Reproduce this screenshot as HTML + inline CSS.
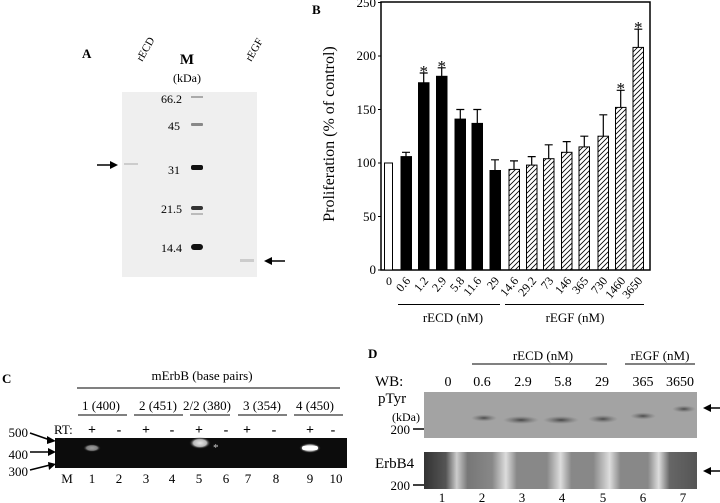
<!DOCTYPE html>
<html><head><meta charset="utf-8"><style>
html,body{margin:0;padding:0;background:#fff;width:720px;height:503px;overflow:hidden}
text{font-family:"Liberation Serif",serif;fill:#000}
</style></head><body>
<svg width="720" height="503" viewBox="0 0 720 503" xmlns="http://www.w3.org/2000/svg">
<defs>
<pattern id="h" width="5" height="5" patternUnits="userSpaceOnUse">
<path d="M-1,6 L6,-1 M-1,1 L1,-1 M4,6 L6,4" stroke="#000" stroke-width="0.8"/>
</pattern>
<radialGradient id="glow"><stop offset="0" stop-color="#fff"/><stop offset="0.6" stop-color="#ccc"/><stop offset="1" stop-color="#111" stop-opacity="0"/></radialGradient>
<radialGradient id="band"><stop offset="0" stop-color="#333"/><stop offset="1" stop-color="#666" stop-opacity="0"/></radialGradient>
<linearGradient id="strp" x1="0" x2="1">
<stop offset="0" stop-color="#333"/><stop offset="0.08" stop-color="#555"/><stop offset="0.12" stop-color="#ccc"/><stop offset="0.16" stop-color="#777"/>
<stop offset="0.25" stop-color="#888"/><stop offset="0.3" stop-color="#ddd"/><stop offset="0.34" stop-color="#888"/>
<stop offset="0.45" stop-color="#888"/><stop offset="0.5" stop-color="#ddd"/><stop offset="0.54" stop-color="#888"/>
<stop offset="0.62" stop-color="#888"/><stop offset="0.68" stop-color="#ddd"/><stop offset="0.72" stop-color="#888"/>
<stop offset="0.82" stop-color="#888"/><stop offset="0.86" stop-color="#ddd"/><stop offset="0.9" stop-color="#666"/><stop offset="1" stop-color="#555"/>
</linearGradient>
</defs>

<!-- Panel A -->
<text x="82" y="58" font-size="13" font-weight="bold">A</text>
<text x="0" y="0" font-size="11" transform="translate(142,62) rotate(-60)">rECD</text>
<text x="187" y="64" font-size="15" font-weight="bold" text-anchor="middle">M</text>
<text x="187" y="82" font-size="12" text-anchor="middle">(kDa)</text>
<text x="0" y="0" font-size="11" transform="translate(251,62) rotate(-60)">rEGF</text>
<rect x="122" y="92" width="135" height="185" fill="#efefef"/>
<g font-size="12" text-anchor="end">
<text x="182" y="103">66.2</text><text x="180" y="130">45</text><text x="180" y="174">31</text>
<text x="182" y="213">21.5</text><text x="182" y="252">14.4</text></g>
<rect x="191" y="96" width="12" height="2" fill="#aaa"/>
<rect x="191" y="123" width="12" height="3" rx="1" fill="#888"/>
<rect x="191" y="165" width="12" height="5" rx="2" fill="#111"/>
<rect x="191" y="206" width="12" height="4" rx="2" fill="#333"/>
<rect x="191" y="213" width="12" height="2" fill="#bbb"/>
<rect x="191" y="244" width="12" height="6" rx="3" fill="#111"/>
<rect x="124" y="163" width="14" height="2" fill="#ccc"/>
<rect x="240" y="259" width="14" height="3" fill="#ccc"/>
<path d="M97,165 H112" stroke="#000" stroke-width="1.5"/><path d="M118,165 L110,161 L110,169Z"/>
<path d="M270,261 H285" stroke="#000" stroke-width="1.5"/><path d="M264,261 L272,257 L272,265Z"/>

<!-- Panel B -->
<text x="312" y="14" font-size="13" font-weight="bold">B</text>
<rect x="381" y="2" width="269" height="268" fill="none" stroke="#000" stroke-width="1.5"/>
<g font-size="13" text-anchor="end">
<text x="376" y="274">0</text><text x="376" y="221">50</text><text x="376" y="167">100</text>
<text x="376" y="114">150</text><text x="376" y="60">200</text><text x="376" y="7">250</text></g>
<g stroke="#000" stroke-width="1"><path d="M378,270H381M378,216.5H381M378,163H381M378,109.5H381M378,56H381M378,2.5H381"/></g>
<text x="0" y="0" font-size="16" text-anchor="middle" transform="translate(334,134) rotate(-90)">Proliferation (% of control)</text>
<g stroke="#000" stroke-width="1">
<rect x="384.5" y="163" width="8" height="107" fill="#fff"/>
<rect x="401" y="156.6" width="10.5" height="113.4" fill="#000"/>
<rect x="418.5" y="82.75" width="10.5" height="187.25" fill="#000"/>
<rect x="436.5" y="76.3" width="10.5" height="193.7" fill="#000"/>
<rect x="455" y="119.1" width="10.5" height="150.9" fill="#000"/>
<rect x="472" y="123.4" width="10.5" height="146.6" fill="#000"/>
<rect x="490" y="170.5" width="10.5" height="99.5" fill="#000"/>
<rect x="509" y="169.4" width="10.5" height="100.6" fill="url(#h)"/>
<rect x="526.5" y="165.1" width="10.5" height="104.9" fill="url(#h)"/>
<rect x="543.5" y="158.7" width="10.5" height="111.3" fill="url(#h)"/>
<rect x="561.5" y="152.3" width="10.5" height="117.7" fill="url(#h)"/>
<rect x="579" y="146.9" width="10.5" height="123.1" fill="url(#h)"/>
<rect x="598" y="136.2" width="10.5" height="133.8" fill="url(#h)"/>
<rect x="615.5" y="107.4" width="10.5" height="162.6" fill="url(#h)"/>
<rect x="633" y="47.4" width="10.5" height="222.6" fill="url(#h)"/>
</g>
<g stroke="#000" stroke-width="1.2" fill="none">
<path d="M406,156.6V152.3M402,152.3H410"/>
<path d="M423.7,82.75V73M419.7,73H427.7"/>
<path d="M441.7,76.3V67.8M437.7,67.8H445.7"/>
<path d="M460.3,119.1V109.5M456.3,109.5H464.3"/>
<path d="M477.3,123.4V109.5M473.3,109.5H481.3"/>
<path d="M495,170.5V159.8M491,159.8H499"/>
<path d="M514,169.4V160.9M510,160.9H518"/>
<path d="M531.7,165.1V156.6M527.7,156.6H535.7"/>
<path d="M548.7,158.7V144.8M544.7,144.8H552.7"/>
<path d="M566.7,152.3V141.6M562.7,141.6H570.7"/>
<path d="M584.3,146.9V136.2M580.3,136.2H588.3"/>
<path d="M603.3,136.2V114.8M599.3,114.8H607.3"/>
<path d="M620.7,107.4V90.3M616.7,90.3H624.7"/>
<path d="M638.3,47.4V29.2M634.3,29.2H642.3"/>
</g>
<g font-size="17" text-anchor="middle">
<text x="423.7" y="77">*</text><text x="441.7" y="72">*</text><text x="620.7" y="94">*</text><text x="638.3" y="33">*</text></g>
<g font-size="12" text-anchor="end">
<text x="392" y="285">0</text>
<text transform="translate(411,281) rotate(-50)">0.6</text>
<text transform="translate(429,281) rotate(-50)">1.2</text>
<text transform="translate(447,281) rotate(-50)">2.9</text>
<text transform="translate(465,281) rotate(-50)">5.8</text>
<text transform="translate(482,281) rotate(-50)">11.6</text>
<text transform="translate(500,281) rotate(-50)">29</text>
<text transform="translate(519,281) rotate(-50)">14.6</text>
<text transform="translate(537,281) rotate(-50)">29.2</text>
<text transform="translate(554,281) rotate(-50)">73</text>
<text transform="translate(572,281) rotate(-50)">146</text>
<text transform="translate(589,281) rotate(-50)">365</text>
<text transform="translate(608,281) rotate(-50)">730</text>
<text transform="translate(626,281) rotate(-50)">1460</text>
<text transform="translate(643,281) rotate(-50)">3650</text>
</g>
<path d="M398,304.5H500M505,304.5H644" stroke="#000" stroke-width="1"/>
<text x="453" y="322" font-size="13" text-anchor="middle">rECD (nM)</text>
<text x="575" y="322" font-size="13" text-anchor="middle">rEGF (nM)</text>

<!-- Panel C -->
<text x="2" y="383" font-size="13" font-weight="bold">C</text>
<text x="202" y="380" font-size="13" text-anchor="middle">mErbB (base pairs)</text>
<path d="M77,388H340" stroke="#000"/>
<g font-size="13" text-anchor="middle">
<text x="101" y="410">1 (400)</text><text x="158" y="410">2 (451)</text><text x="207" y="410">2/2 (380)</text>
<text x="262" y="410">3 (354)</text><text x="315" y="410">4 (450)</text></g>
<path d="M78,415H127M134,415H183M190,415H230M238,415H287M294,415H343" stroke="#000"/>
<text x="54" y="434" font-size="13">RT:</text>
<g font-size="14" font-weight="bold" text-anchor="middle">
<text x="92" y="434">+</text><text x="119" y="434">-</text><text x="146" y="434">+</text><text x="172" y="434">-</text>
<text x="199" y="434">+</text><text x="226" y="434">-</text><text x="247" y="434">+</text><text x="274" y="434">-</text>
<text x="310" y="434">+</text><text x="333" y="434">-</text></g>
<rect x="55" y="438" width="292" height="30" fill="#0c0c0c"/>
<ellipse cx="92" cy="448" rx="9" ry="4" fill="url(#glow)" opacity="0.6"/>
<ellipse cx="200" cy="443" rx="11" ry="6" fill="url(#glow)" opacity="0.9"/>
<ellipse cx="310" cy="448" rx="11" ry="5" fill="url(#glow)"/>
<rect x="302" y="446" width="16" height="4" rx="2" fill="#fff"/>
<text x="213" y="451" font-size="11" style="fill:#ccc">*</text>
<g font-size="13" text-anchor="end"><text x="28" y="437">500</text><text x="28" y="459">400</text><text x="28" y="476">300</text></g>
<g stroke="#000" stroke-width="1.5"><path d="M30,433L50,440M30,452H50M30,470L50,465"/></g>
<path d="M56,441L47,436L47,444ZM56,452L48,448L48,456ZM56,464L48,462L49,470Z"/>
<g font-size="13" text-anchor="middle">
<text x="67" y="483">M</text><text x="92" y="483">1</text><text x="119" y="483">2</text><text x="146" y="483">3</text>
<text x="172" y="483">4</text><text x="199" y="483">5</text><text x="226" y="483">6</text><text x="248" y="483">7</text>
<text x="276" y="483">8</text><text x="310" y="483">9</text><text x="336" y="483">10</text></g>

<!-- Panel D -->
<text x="368" y="358" font-size="13" font-weight="bold">D</text>
<text x="543" y="360" font-size="13" text-anchor="middle">rECD (nM)</text>
<text x="660" y="360" font-size="13" text-anchor="middle">rEGF (nM)</text>
<path d="M472,364H607M625,364H695" stroke="#000"/>
<text x="375" y="386" font-size="15">WB:</text>
<g font-size="14" text-anchor="middle">
<text x="448" y="386">0</text><text x="482" y="386">0.6</text><text x="523" y="386">2.9</text><text x="563" y="386">5.8</text>
<text x="602" y="386">29</text><text x="643" y="386">365</text><text x="680" y="386">3650</text></g>
<text x="378" y="403" font-size="15">pTyr</text>
<text x="420" y="421" font-size="12" text-anchor="end">(kDa)</text>
<text x="410" y="434" font-size="13" text-anchor="end">200</text>
<path d="M413,429H424" stroke="#000" stroke-width="1.5"/>
<rect x="424" y="392" width="273" height="46" fill="#a3a3a3"/>
<ellipse cx="484" cy="418" rx="13" ry="3.5" fill="url(#band)" opacity="0.8"/>
<ellipse cx="521" cy="420" rx="18" ry="4" fill="url(#band)" opacity="0.85"/>
<ellipse cx="561" cy="420" rx="18" ry="4" fill="url(#band)" opacity="0.85"/>
<ellipse cx="603" cy="419" rx="15" ry="4" fill="url(#band)" opacity="0.8"/>
<ellipse cx="643" cy="416" rx="13" ry="3.5" fill="url(#band)" opacity="0.8"/>
<ellipse cx="684" cy="409" rx="12" ry="3.5" fill="url(#band)" opacity="0.8"/>
<path d="M710,408H720" stroke="#000" stroke-width="1.5"/><path d="M703,408L711,404L711,412Z"/>
<text x="375" y="468" font-size="15">ErbB4</text>
<text x="410" y="490" font-size="13" text-anchor="end">200</text>
<path d="M413,485H424" stroke="#000" stroke-width="1.5"/>
<rect x="424" y="452" width="273" height="37" fill="url(#strp)"/>
<path d="M710,471H720" stroke="#000" stroke-width="1.5"/><path d="M703,471L711,467L711,475Z"/>
<g font-size="13" text-anchor="middle">
<text x="442" y="502">1</text><text x="482" y="502">2</text><text x="522" y="502">3</text><text x="562" y="502">4</text>
<text x="603" y="502">5</text><text x="643" y="502">6</text><text x="683" y="502">7</text></g>
</svg>
</body></html>
